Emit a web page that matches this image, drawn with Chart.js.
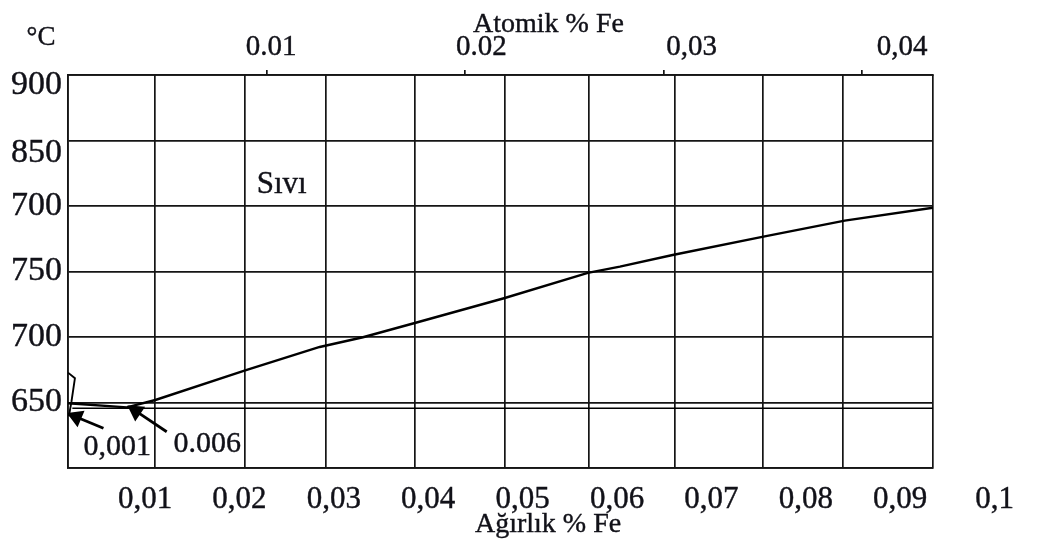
<!DOCTYPE html>
<html>
<head>
<meta charset="utf-8">
<script src="https://cdn.jsdelivr.net/npm/chart.js@4"></script>
<style>
  html, body { margin: 0; padding: 0; background: #fff; }
  #wrap { width: 1038px; height: 542px; }
</style>
</head>
<body>
<div id="wrap"><canvas id="c" width="1038" height="542"></canvas></div>
<script>
// Al–Fe diagram, aluminium-rich corner: temperature (°C) against weight % Fe.

// Liquidus line
const liquidusWt = [0, 0.0068, 0.0101, 0.0204, 0.0291, 0.0341, 0.0402, 0.0504, 0.0601, 0.0638, 0.0699, 0.0804, 0.0898, 0.1];
const liquidusT  = [649.4, 646.3, 651.9, 674.3, 692.4, 699.8, 710.9, 729.6, 748.9, 753.7, 762.6, 776.6, 788.8, 798.7];

// Eutectic isotherm
const eutecticWt = [0.0005, 0.1];
const eutecticT  = [645.6, 645.6];

// Solid-solution boundary near pure Al
const solvusWt = [0, 0.0008, 0.0004, 0.0001];
const solvusT  = [672.8, 668.5, 650.6, 639.5];

// Pointer arrows (tail, head)
const arrowSolWt = [0.0041, 0.00096];
const arrowSolT  = [630.3, 638.9];
const arrowEutWt = [0.01141, 0.00785];
const arrowEutT  = [627.7, 643.4];

// Vertical rulings of the printed grid (weight % Fe)
const gridWt = [0, 0.01006, 0.02046, 0.02983, 0.04012, 0.05052, 0.06023, 0.07017, 0.08035, 0.0896, 0.1];

// Axis ticks and their printed labels
const weightTicks  = [0.01, 0.02, 0.03, 0.04, 0.05, 0.06, 0.07, 0.08, 0.09, 0.1];
const weightLabels = ['0,01', '0,02', '0,03', '0,04', '0,05', '0,06', '0,07', '0,08', '0,09', '0,1'];
const atomicTicks  = [0.01, 0.02, 0.03, 0.04];
const atomicLabels = ['0.01', '0.02', '0,03', '0,04'];
const tempTicks    = [600, 650, 700, 750, 800, 850, 900];
const tempLabels   = ['', '650', '700', '750', '700', '850', '900'];

// Text placed in the plot
const notes = [
  { text: 'Sıvı',  x: 0.0247, y: 810.0, size: 31 },
  { text: '0,001', x: 0.0057, y: 610.0, size: 30 },
  { text: '0.006', x: 0.0161, y: 612.2, size: 30 }
];

const SERIF = '"Liberation Serif", "DejaVu Serif", serif';
const INK = '#111118';
const GRID = '#151515';

// the two upper temperature labels sit a little below their rulings
const tempLabelDrop = { 900: 10, 850: 13 };

const pts = (xs, ys) => xs.map((v, i) => ({ x: v, y: ys[i] }));

const lineSet = (data, width) => ({
  data, showLine: true, borderColor: '#000', borderWidth: width,
  pointRadius: 0, tension: 0, xAxisID: 'x', yAxisID: 'y'
});

const arrowSet = (data, angle) => ({
  data, showLine: true, borderColor: '#000', borderWidth: 2.8,
  backgroundColor: '#000', pointBackgroundColor: '#000', pointBorderColor: '#000',
  pointStyle: 'triangle', pointRadius: [0, 7.5], pointRotation: [0, angle],
  tension: 0, xAxisID: 'x', yAxisID: 'y'
});

const textPlugin = {
  id: 'plotText',
  afterDatasetsDraw(chart) {
    const { ctx, chartArea, scales } = chart;
    const put = (text, x, y) => { ctx.fillText(text, x, y); ctx.strokeText(text, x, y); };
    ctx.save();
    ctx.fillStyle = INK;
    ctx.strokeStyle = INK;
    ctx.lineWidth = 0.4;
    ctx.textAlign = 'center';
    ctx.textBaseline = 'alphabetic';
    notes.forEach(n => {
      ctx.font = n.size + 'px ' + SERIF;
      put(n.text, scales.x.getPixelForValue(n.x), scales.y.getPixelForValue(n.y));
    });
    // axis titles
    ctx.font = '28px ' + SERIF;
    put('Atomik % Fe', scales.xt.getPixelForValue(0.0242), chartArea.top - 43);
    put('Ağırlık % Fe', scales.x.getPixelForValue(0.0555), chartArea.bottom + 64);
    ctx.font = '27px ' + SERIF;
    put('°C', chartArea.left - 27, chartArea.top - 30);
    ctx.restore();
  }
};

const tickText = { color: INK, textStrokeColor: INK, textStrokeWidth: 0.4 };

new Chart(document.getElementById('c'), {
  type: 'scatter',
  data: {
    datasets: [
      lineSet(pts(liquidusWt, liquidusT), 2.4),
      lineSet(pts(eutecticWt, eutecticT), 1.7),
      lineSet(pts(solvusWt, solvusT), 1.9),
      arrowSet(pts(arrowSolWt, arrowSolT), -67),
      arrowSet(pts(arrowEutWt, arrowEutT), -56)
    ]
  },
  options: {
    responsive: false,
    animation: false,
    layout: { padding: { left: 0, right: 105, top: 0, bottom: 0 } },
    plugins: { legend: { display: false }, tooltip: { enabled: false } },
    scales: {
      x: {
        type: 'linear', position: 'bottom', weight: 1,
        min: 0, max: 0.1,
        afterBuildTicks: s => { s.ticks = gridWt.map(v => ({ value: v })); },
        ticks: { display: false },
        grid: { color: GRID, lineWidth: 1.7, drawTicks: false },
        border: { color: GRID, width: 1.7 }
      },
      xw: {
        type: 'linear', position: 'bottom', weight: 2,
        min: 0.00184, max: 0.09347,
        grid: { display: false }, border: { display: false },
        afterBuildTicks: s => { s.ticks = weightTicks.map(v => ({ value: v })); },
        afterFit: s => { s.height = 74; },
        ticks: {
          ...tickText, autoSkip: false, maxRotation: 0, padding: 8,
          font: { family: SERIF, size: 31, lineHeight: 1 },
          callback: (v, i) => weightLabels[i]
        }
      },
      xt: {
        type: 'linear', position: 'top', weight: 1,
        min: 0, max: 0.04357,
        grid: { drawOnChartArea: false, tickLength: 5, color: GRID, lineWidth: 1.7 },
        border: { color: GRID, width: 1.7 },
        afterBuildTicks: s => { s.ticks = atomicTicks.map(v => ({ value: v })); },
        ticks: { display: false }
      },
      xa: {
        type: 'linear', position: 'top', weight: 2,
        min: 0.000347, max: 0.04147,
        grid: { display: false }, border: { display: false },
        afterBuildTicks: s => { s.ticks = atomicTicks.map(v => ({ value: v })); },
        afterFit: s => { s.height = 70; },
        ticks: {
          ...tickText, autoSkip: false, maxRotation: 0, padding: 0,
          font: { family: SERIF, size: 29, lineHeight: 1 },
          callback: (v, i) => atomicLabels[i]
        }
      },
      y: {
        type: 'linear', position: 'left',
        min: 600, max: 900,
        afterBuildTicks: s => { s.ticks = tempTicks.map(v => ({ value: v })); },
        afterFit: s => { s.width = 68; },
        grid: { color: GRID, lineWidth: 1.7, drawTicks: false },
        border: { color: GRID, width: 1.7 },
        ticks: {
          ...tickText, padding: 6,
          font: ctx => {
            const drop = ctx.tick ? tempLabelDrop[ctx.tick.value] : undefined;
            return { family: SERIF, size: 34, lineHeight: drop ? (2 * drop) + 'px' : 1 };
          },
          callback: (v, i) => tempLabelDrop[v] ? ['', tempLabels[i]] : tempLabels[i]
        }
      }
    }
  },
  plugins: [textPlugin]
});
</script>
</body>
</html>
